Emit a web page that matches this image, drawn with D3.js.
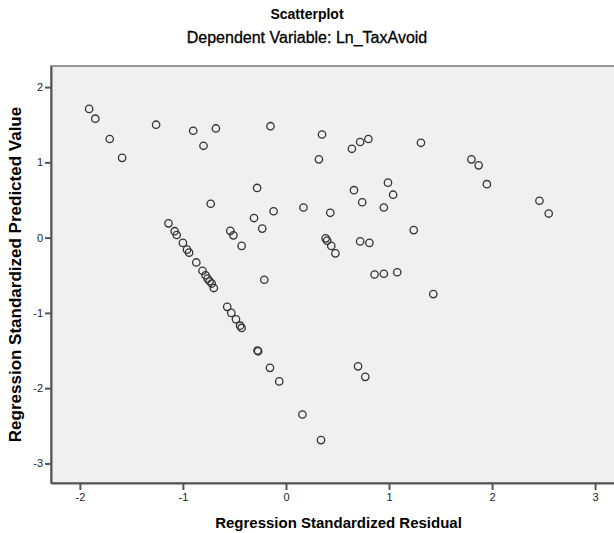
<!DOCTYPE html>
<html>
<head>
<meta charset="utf-8">
<script src="https://cdn.jsdelivr.net/npm/d3@7"></script>
<style>
  body { margin: 0; background: #fff; }
  svg { display: block; font-family: "Liberation Sans", Arial, sans-serif; }
  .axis path, .axis line { stroke: #555; }
  .axis text { fill: #222; font-size: 11px; }
</style>
</head>
<body>
<svg id="chart"></svg>
<script>
// chart texts
const chartTitle = 'Scatterplot';
const chartSubtitle = 'Dependent Variable: Ln_TaxAvoid';
const xTitle = 'Regression Standardized Residual';
const yTitle = 'Regression Standardized Predicted Value';

// tick values
const xTicks = [-2, -1, 0, 1, 2, 3];
const yTicks = [-3, -2, -1, 0, 1, 2];

// standardized residual (x) of each case
const residuals = [
  -1.91, -1.85, -1.71, -1.59, -1.26, -0.90, -0.68, -0.80, -0.15, 0.35,
  0.32, 0.64, 0.72, 0.80, 1.31, 1.80, 1.87, 1.95, 2.46, 2.55,
  -0.28, -0.73, 0.17, 0.43, -0.12, -0.31, -0.23, 0.66, 0.99, 1.04,
  0.74, 0.95, 1.24, 0.72, 0.81, -0.54, -0.51, -0.43, 0.385, 0.40,
  0.44, 0.48, 0.86, 0.95, 1.08, 1.43, -0.21, 0.70, 0.77, 0.16,
  0.34, -0.276, -0.27, -0.155, -0.065,
  -1.14, -1.08, -1.06, -1.00, -0.96, -0.94, -0.87,
  -0.81, -0.78, -0.76, -0.74, -0.72, -0.70,
  -0.57, -0.53, -0.485, -0.445, -0.43
];

// standardized predicted value (y) of each case
const predicted = [
  1.71, 1.58, 1.31, 1.06, 1.50, 1.42, 1.45, 1.22, 1.48, 1.37,
  1.04, 1.18, 1.27, 1.31, 1.26, 1.04, 0.96, 0.71, 0.49, 0.32,
  0.66, 0.45, 0.40, 0.33, 0.35, 0.26, 0.12, 0.63, 0.73, 0.57,
  0.47, 0.40, 0.10, -0.05, -0.07, 0.09, 0.03, -0.11, -0.01, -0.04,
  -0.11, -0.21, -0.49, -0.48, -0.46, -0.75, -0.56, -1.71, -1.85, -2.35,
  -2.69, -1.50, -1.51, -1.73, -1.91,
  0.19, 0.085, 0.035, -0.07, -0.16, -0.20, -0.33,
  -0.44, -0.50, -0.545, -0.58, -0.61, -0.67,
  -0.92, -1.00, -1.085, -1.17, -1.20
];

class ScatterPlot {
  constructor(_config, _xs, _ys) {
    this.config = {
      parentElement: _config.parentElement,
      containerWidth: _config.containerWidth,
      containerHeight: _config.containerHeight,
      // plot runs past the right edge of the picture (cropped)
      margin: {top: 66, right: -12, bottom: 50, left: 51},
    }
    this.xs = _xs;
    this.ys = _ys;
    this.initVis();
  }

  initVis() {
    let vis = this;

    vis.width = vis.config.containerWidth - vis.config.margin.left - vis.config.margin.right;
    vis.height = vis.config.containerHeight - vis.config.margin.top - vis.config.margin.bottom;

    vis.xScale = d3.scaleLinear()
        .domain([-2.28, 3.30])
        .range([0, vis.width]);

    vis.yScale = d3.scaleLinear()
        .domain([-3.26, 2.28])
        .range([vis.height, 0]);

    // SPSS style labels: plain hyphen, no decimals
    const fmt = d => String(d);
    vis.xAxis = d3.axisBottom(vis.xScale).tickValues(xTicks).tickFormat(fmt)
        .tickSize(7).tickSizeOuter(0).tickPadding(3);
    vis.yAxis = d3.axisLeft(vis.yScale).tickValues(yTicks).tickFormat(fmt)
        .tickSize(6).tickSizeOuter(0).tickPadding(2);

    vis.svg = d3.select(vis.config.parentElement)
        .attr('width', vis.config.containerWidth)
        .attr('height', vis.config.containerHeight);

    vis.chart = vis.svg.append('g')
        .attr('transform', `translate(${vis.config.margin.left},${vis.config.margin.top})`);

    vis.chart.append('rect')
        .attr('width', vis.width)
        .attr('height', vis.height)
        .attr('fill', '#f0f0f0')
        .attr('stroke', '#777')
        .attr('stroke-width', 1.5);

    vis.xAxisG = vis.chart.append('g')
        .attr('class', 'axis x-axis')
        .attr('transform', `translate(0,${vis.height})`);

    vis.yAxisG = vis.chart.append('g')
        .attr('class', 'axis y-axis');

    // titles
    vis.svg.append('text')
        .attr('x', 307).attr('y', 19)
        .attr('text-anchor', 'middle')
        .attr('font-size', 14).attr('font-weight', 'bold')
        .text(chartTitle);

    vis.svg.append('text')
        .attr('x', 307).attr('y', 43)
        .attr('text-anchor', 'middle')
        .attr('font-size', 16)
        .attr('stroke', '#000').attr('stroke-width', 0.3)
        .text(chartSubtitle);

    vis.svg.append('text')
        .attr('x', vis.config.margin.left + vis.width / 2).attr('y', 528)
        .attr('text-anchor', 'middle')
        .attr('font-size', 15).attr('font-weight', 'bold')
        .text(xTitle);

    vis.svg.append('text')
        .attr('transform', `translate(21,${vis.config.margin.top + vis.height / 2}) rotate(-90)`)
        .attr('text-anchor', 'middle')
        .attr('font-size', 17).attr('font-weight', 'bold')
        .text(yTitle);

    vis.renderVis();
  }

  renderVis() {
    let vis = this;

    vis.xAxisG.call(vis.xAxis);
    vis.yAxisG.call(vis.yAxis);
    vis.chart.selectAll('.domain').attr('stroke-width', 2);
    vis.chart.selectAll('.tick line').attr('stroke-width', 2);

    vis.chart.selectAll('.dot')
        .data(vis.xs.map((x, i) => [x, vis.ys[i]]))
      .join('circle')
        .attr('class', 'dot')
        .attr('cx', d => vis.xScale(d[0]))
        .attr('cy', d => vis.yScale(d[1]))
        .attr('r', 3.7)
        .attr('fill', 'none')
        .attr('stroke', '#333')
        .attr('stroke-width', 1.3);
  }
}

new ScatterPlot({
  parentElement: '#chart',
  containerWidth: 614,
  containerHeight: 533
}, residuals, predicted);
</script>
</body>
</html>
